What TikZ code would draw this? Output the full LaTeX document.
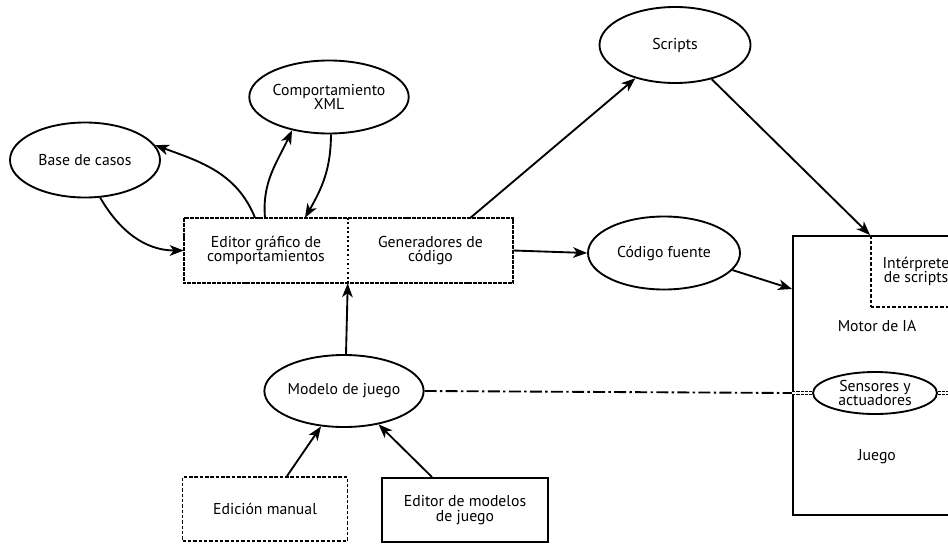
\documentclass[tikz,border=0pt]{standalone}
\usepackage{fontspec}
\setmainfont{PT Sans}
\usetikzlibrary{shapes.geometric,arrows.meta,calc}
\begin{document}
\begin{tikzpicture}[x=0.75pt,y=-0.75pt,
  font=\fontsize{11.8}{12}\selectfont,
  every node/.style={align=center},
  arr/.style={line width=1.4pt,-{Stealth[length=10.5pt,width=8pt,inset=3pt]}},
  oval/.style={draw,ellipse,line width=1.4pt,inner sep=0pt,minimum width=#1*0.75pt},
  ovalh/.style={minimum height=#1*0.75pt},
  densebox/.style={draw,line width=1.4pt,dash pattern=on 3pt off 0.7pt},
  dashbox/.style={draw,line width=1.4pt,dash pattern=on 2.6pt off 1.4pt},
  solidbox/.style={draw,line width=1.4pt},
  dashdot/.style={line width=1.4pt,dash pattern=on 9pt off 2.5pt on 1.8pt off 2.5pt},
  duo/.style={double,line width=0.8pt,double distance=1.2pt,dash pattern=on 2.4pt off 0.8pt}
]
\useasboundingbox (0,0) rectangle (948,543);
\clip (0,0) rectangle (948,543);

% ellipses
\node[oval=150,ovalh=75] (base) at (85,160) {Base de casos};
\node[oval=150,ovalh=73] (xml) at (329,97) {Comportamiento\\[-1pt]XML};
\node[oval=151,ovalh=76] (scripts) at (675,45) {Scripts};
\node[oval=152,ovalh=73] (codigo) at (664,253) {Código fuente};
\node[oval=148,ovalh=72] (modelo) at (344,391) {Modelo de juego};

% main editor box split into two halves
\node[minimum width=164*0.75pt,minimum height=65*0.75pt,inner sep=0pt] (editor) at (266,250.5) {Editor gráfico de\\[-1pt]comportamientos};
\node[minimum width=165*0.75pt,minimum height=65*0.75pt,inner sep=0pt] (gen) at (430.5,250.5) {Generadores de\\[-1pt]código};
\draw[densebox] (editor.north west) rectangle (gen.south east);
\draw[line width=1.4pt,dotted] (editor.north east) -- (editor.south east);

% input boxes
\node[dashbox,minimum width=165*0.75pt,minimum height=64*0.75pt] (manual) at (265,509) {Edición manual};
\node[solidbox,minimum width=166*0.75pt,minimum height=64*0.75pt] (edmod) at (465,510) {Editor de modelos\\[-1pt]de juego};

% game engine box
\node[solidbox,minimum width=307*0.75pt,minimum height=279*0.75pt,inner sep=0pt] (motor) at (946.5,375.5) {};
\node[dashbox,minimum width=90*0.75pt,minimum height=71*0.75pt,inner sep=0pt] (interp) at (916,271.5) {Intérprete\\[-1pt]de scripts};
\node (motorlbl) at (877,326) {Motor de IA};
\node (juego) at (877,457) {Juego};
\node[oval=124,ovalh=42] (sens) at (875,393) {Sensores y\\[-1pt]actuadores};

% connectors
\draw[arr] ($(editor.north)+(-11,0)$) to[out=112,in=-20] (base.12);
\draw[arr] (base.-68) to[out=-60,in=180] (editor.west);
\draw[arr] ($(editor.north)+(-1,0)$) to[out=95,in=-115] (xml.-138);
\draw[arr] (xml.-87) to[out=-90,in=60] ($(editor.north)+(39,0)$);
\draw[arr] ($(gen.north)+(40,0)$) -- (scripts.-140);
\draw[arr] (scripts.-43) -- (interp.north west);
\draw[arr] (gen.east) -- (codigo.west);
\draw[arr] (codigo.-14) -- (motor.west |- 0,289);
\draw[arr] ($(modelo.north)+(2,0)$) -- (gen.south west);
\draw[arr] ($(manual.north)+(22,0)$) -- (modelo.-123);
\draw[arr] ($(edmod.north)+(-33,0)$) -- (modelo.-44);

% link between game model and sensors
\coordinate (mw) at (motor.west |- sens.west);
\draw[dashdot] (modelo.east) -- (mw);
\draw[duo] (mw) -- (sens.west);
\draw[duo] (sens.east) -- ++(14,0);
\end{tikzpicture}
\end{document}
